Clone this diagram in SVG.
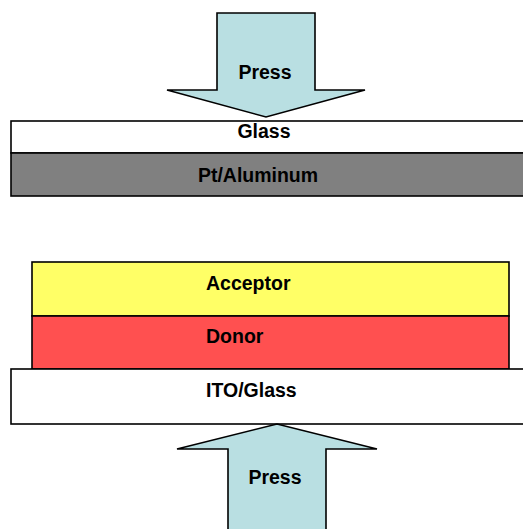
<svg xmlns="http://www.w3.org/2000/svg" width="523" height="529" viewBox="0 0 523 529">
<style>
.s{stroke:#000;stroke-width:1.6}
.arrow{fill:#B9DFE2}
text{font-family:"Liberation Sans",Arial,sans-serif;font-weight:bold;font-size:19.5px;fill:#000}
.c{text-anchor:middle}
</style>
<rect width="523" height="529" fill="#fff"/>
<g id="press-top">
<polygon class="s arrow" points="217,13 315,13 315,90 365,90 266,117 167,90 217,90"/>
<text class="c" x="265" y="79">Press</text>
</g>
<g id="glass-top">
<rect class="s" x="11" y="121" width="520" height="32" fill="#fff"/>
<text class="c" x="264" y="138">Glass</text>
</g>
<g id="pt-aluminum">
<rect class="s" x="11" y="153" width="520" height="43" fill="#808080"/>
<text class="c" x="258" y="182">Pt/Aluminum</text>
</g>
<g id="acceptor">
<rect class="s" x="32" y="262" width="477" height="54" fill="#FFFF66"/>
<text x="206" y="290">Acceptor</text>
</g>
<g id="donor">
<rect class="s" x="32" y="316" width="477" height="53" fill="#FF5050"/>
<text x="206" y="343">Donor</text>
</g>
<g id="ito-glass">
<rect class="s" x="11" y="369" width="520" height="55" fill="#fff"/>
<text x="206" y="397">ITO/Glass</text>
</g>
<g id="press-bottom">
<polygon class="s arrow" points="228,535 228,449 177,449 277,424 377,449 326,449 326,535"/>
<text class="c" x="275" y="484">Press</text>
</g>
</svg>
